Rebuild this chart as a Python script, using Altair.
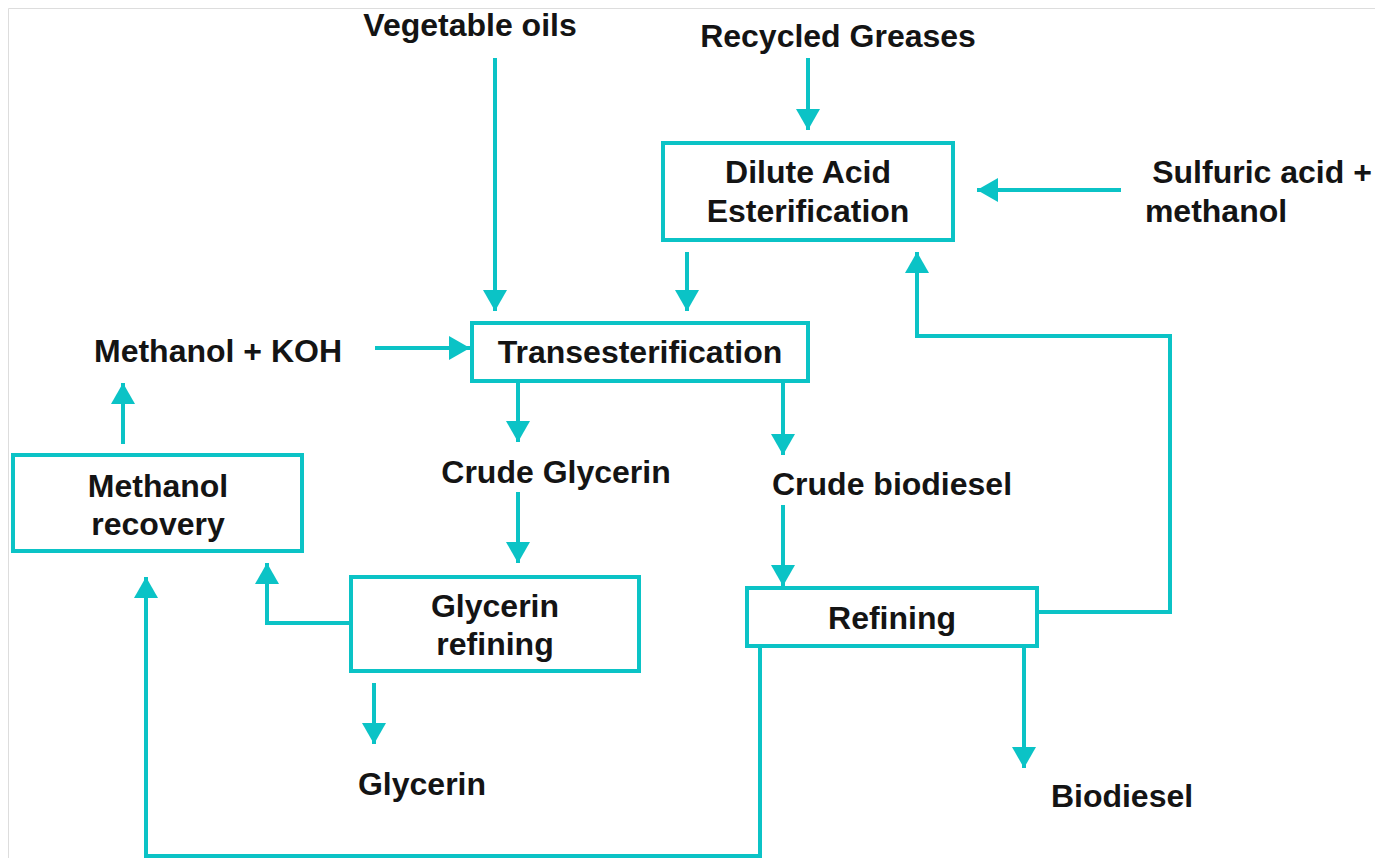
import altair as alt
import pandas as pd

# ---- data ----
box_names = ["Dilute Acid Esterification", "Transesterification", "Methanol recovery",
             "Glycerin refining", "Refining"]
box_x1 = [663, 472, 13, 351, 747]
box_x2 = [953, 808, 302, 639, 1037]
box_y1 = [143, 323, 455, 577, 588]
box_y2 = [240, 381, 551, 671, 646]

label_text = ["Vegetable oils", "Recycled Greases", "Dilute Acid", "Esterification",
              "Sulfuric acid +", "methanol", "Transesterification", "Methanol + KOH",
              "Methanol", "recovery", "Crude Glycerin", "Crude biodiesel",
              "Glycerin", "refining", "Refining", "Glycerin", "Biodiesel"]
label_x = [470, 838, 808, 808, 1262, 1216, 640, 218, 158, 158, 556, 892, 495, 495, 892, 422, 1122]
label_y = [36, 47, 183, 222, 183, 222, 363, 362, 497, 535, 483, 495, 617, 655, 629, 795, 807]

arrow_paths = [
    [(495, 58), (495, 311)],
    [(808, 58), (808, 130)],
    [(1121, 190), (977, 190)],
    [(687, 252), (687, 311)],
    [(1037, 612), (1170, 612), (1170, 336), (917, 336), (917, 252)],
    [(375, 348), (470, 348)],
    [(518, 381), (518, 442)],
    [(783, 381), (783, 455)],
    [(518, 492), (518, 563)],
    [(783, 505), (783, 586)],
    [(123, 444), (123, 383)],
    [(351, 623), (267, 623), (267, 563)],
    [(374, 683), (374, 744)],
    [(1024, 646), (1024, 768)],
    [(760, 646), (760, 856), (146, 856), (146, 577)],
]

# ---- tables ----
boxes = pd.DataFrame({"name": box_names, "x1": box_x1, "x2": box_x2, "y1": box_y1, "y2": box_y2})
labels = pd.DataFrame({"text": label_text, "x": label_x, "y": label_y})

seg_rows = []
head_rows = []
for i, path in enumerate(arrow_paths):
    for j, (px, py) in enumerate(path):
        seg_rows.append({"id": i, "seq": j, "x": px, "y": py})
    (ax, ay), (bx, by) = path[-2], path[-1]
    if bx == ax:
        ang = 0 if by < ay else 180
    else:
        ang = 90 if bx > ax else 270
    head_rows.append({"id": i, "x": bx, "y": by, "angle": ang})
segs = pd.DataFrame(seg_rows)
heads = pd.DataFrame(head_rows)

TEAL = "#0BC3C6"
W, H = 1367, 850
xs = alt.Scale(domain=[8, 1375], nice=False, zero=False)
ys = alt.Scale(domain=[8, 858], nice=False, zero=False, reverse=True)

lines = alt.Chart(segs).mark_line(color=TEAL, strokeWidth=4, strokeCap="butt", strokeJoin="miter").encode(
    x=alt.X("x:Q", scale=xs, axis=None),
    y=alt.Y("y:Q", scale=ys, axis=None),
    detail="id:N",
    order="seq:Q",
)

rects = alt.Chart(boxes).mark_rect(fill="white", stroke=TEAL, strokeWidth=4).encode(
    x=alt.X("x1:Q", scale=xs, axis=None), x2="x2:Q",
    y=alt.Y("y1:Q", scale=ys, axis=None), y2="y2:Q",
)

arrowheads = alt.Chart(heads).mark_point(
    shape="M0,0L-1,1.75L1,1.75Z", filled=True, fill=TEAL, opacity=1, size=576, strokeWidth=0
).encode(
    x=alt.X("x:Q", scale=xs, axis=None),
    y=alt.Y("y:Q", scale=ys, axis=None),
    angle=alt.Angle("angle:Q", scale=None),
)

texts = alt.Chart(labels).mark_text(
    font="Liberation Sans", fontWeight="bold", fontSize=32, color="#141414",
    align="center", baseline="alphabetic"
).encode(
    x=alt.X("x:Q", scale=xs, axis=None),
    y=alt.Y("y:Q", scale=ys, axis=None),
    text="text:N",
)

chart = alt.layer(lines, rects, arrowheads, texts).properties(
    width=W, height=H, padding=0, autosize=alt.AutoSizeParams(type="none")
).configure_view(strokeWidth=0, stroke="transparent").configure(background="white")

chart.save("out.html", embed_options={"renderer": "svg", "actions": False})
